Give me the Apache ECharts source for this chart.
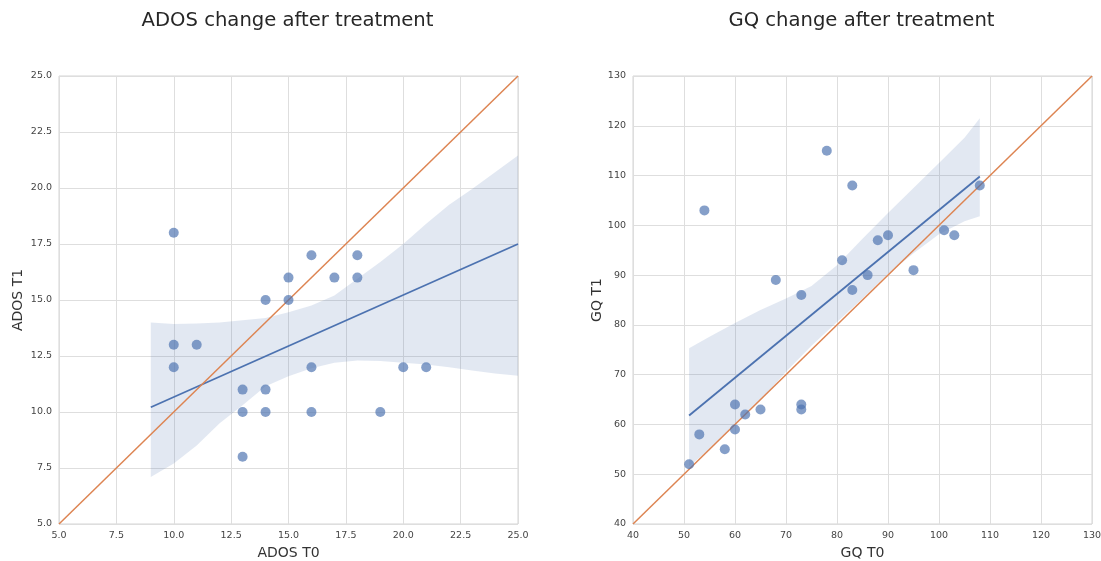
<!DOCTYPE html>
<html>
<head>
<meta charset="utf-8">
<script src="https://cdn.jsdelivr.net/npm/echarts@6/dist/echarts.min.js"></script>
<style>
  html, body { margin: 0; padding: 0; background: #ffffff; }
  #chart { width: 1101px; height: 561px; }
</style>
</head>
<body>
<div id="chart"></div>
<script>
// ADOS scores before (T0) and after (T1) treatment
const adosT0 = [10, 10, 10, 11, 13, 13, 13, 14, 14, 14, 15, 15, 16, 16, 16, 17, 18, 18, 19, 20, 21];
const adosT1 = [18, 13, 12, 13, 11, 10, 8, 15, 11, 10, 16, 15, 17, 12, 10, 16, 17, 16, 10, 12, 12];
// ADOS fitted regression line and its confidence band
const adosFitX = [9, 25];
const adosFitY = [10.21, 17.5];
const adosBandX = [9, 10, 11, 12, 13, 14, 15, 16, 17, 18, 19, 20, 21, 22, 23, 24, 25];
const adosBandUpper = [14.0, 13.93, 13.95, 14.0, 14.1, 14.2, 14.45, 14.75, 15.2, 15.95, 16.7, 17.5, 18.4, 19.25, 19.95, 20.7, 21.45];
const adosBandLower = [7.1, 7.7, 8.5, 9.5, 10.3, 11.15, 11.6, 11.95, 12.2, 12.3, 12.28, 12.2, 12.12, 12.0, 11.85, 11.72, 11.62];
// ADOS identity line (no change)
const adosIdentity = [5, 25];

// GQ scores before (T0) and after (T1) treatment
const gqT0 = [54, 78, 83, 108, 101, 103, 90, 88, 81, 86, 95, 83, 68, 73, 60, 62, 65, 73, 73, 53, 60, 58, 51];
const gqT1 = [103, 115, 108, 108, 99, 98, 98, 97, 93, 90, 91, 87, 89, 86, 64, 62, 63, 64, 63, 58, 59, 55, 52];
// GQ fitted regression line and its confidence band
const gqFitX = [51, 108];
const gqFitY = [61.8, 109.8];
const gqBandX = [51, 55, 60, 65, 70, 75, 80, 85, 90, 95, 100, 105, 108];
const gqBandUpper = [75.3, 77.6, 80.4, 83.0, 85.3, 87.8, 92.0, 97.3, 102.5, 107.5, 112.5, 117.6, 121.5];
const gqBandLower = [51.6, 55.0, 60.0, 64.8, 70.6, 75.8, 80.6, 85.3, 90.2, 94.4, 98.2, 100.8, 101.8];
// GQ identity line (no change)
const gqIdentity = [40, 130];

// Axis ticks
const adosTicks = { min: 5, max: 25, interval: 2.5 };
const gqTicks = { min: 40, max: 130, interval: 10 };

const titles = ['ADOS change after treatment', 'GQ change after treatment'];
const xNames = ['ADOS T0', 'GQ T0'];
const yNames = ['ADOS T1', 'GQ T1'];

const FONT = 'DejaVu Sans';
const BLUE = '#4c72b0';
const ORANGE = '#dd8452';

const zip = (a, b) => a.map((v, i) => [v, b[i]]);

function bandSeries(idx, xs, up, lo) {
  return {
    type: 'custom',
    xAxisIndex: idx,
    yAxisIndex: idx,
    z: 2,
    silent: true,
    data: [0],
    renderItem: function (params, api) {
      const pts = [];
      for (let i = 0; i < xs.length; i++) pts.push(api.coord([xs[i], up[i]]));
      for (let i = xs.length - 1; i >= 0; i--) pts.push(api.coord([xs[i], lo[i]]));
      return {
        type: 'polygon',
        shape: { points: pts },
        style: { fill: 'rgba(76,114,176,0.16)', stroke: null }
      };
    }
  };
}

function lineSeries(idx, data, color, width, z) {
  return {
    type: 'line',
    xAxisIndex: idx,
    yAxisIndex: idx,
    data: data,
    symbol: 'none',
    silent: true,
    z: z,
    lineStyle: { color: color, width: width }
  };
}

function scatterSeries(idx, data) {
  return {
    type: 'scatter',
    xAxisIndex: idx,
    yAxisIndex: idx,
    data: data,
    symbolSize: 10,
    z: 5,
    itemStyle: { color: 'rgba(76,114,176,0.85)' }
  };
}

function xAxis(idx, t, fmt) {
  return {
    type: 'value',
    gridIndex: idx,
    min: t.min, max: t.max, interval: t.interval,
    name: xNames[idx],
    nameLocation: 'middle',
    nameGap: 18,
    nameTextStyle: { fontFamily: FONT, fontSize: 14, color: '#333333' },
    axisLine: { show: false },
    axisTick: { show: false },
    axisLabel: { fontFamily: FONT, fontSize: 9.5, color: '#444444', margin: 7, formatter: fmt,
                 showMinLabel: true, showMaxLabel: true },
    splitLine: { show: true, lineStyle: { color: '#dedede', width: 1 } }
  };
}

function yAxis(idx, t, fmt, gap) {
  return {
    type: 'value',
    gridIndex: idx,
    min: t.min, max: t.max, interval: t.interval,
    name: yNames[idx],
    nameLocation: 'middle',
    nameGap: gap,
    nameTextStyle: { fontFamily: FONT, fontSize: 14, color: '#333333' },
    axisLine: { show: false },
    axisTick: { show: false },
    axisLabel: { fontFamily: FONT, fontSize: 9.5, color: '#444444', margin: 7, formatter: fmt,
                 showMinLabel: true, showMaxLabel: true },
    splitLine: { show: true, lineStyle: { color: '#dedede', width: 1 } }
  };
}

const oneDecimal = v => v.toFixed(1);
const integer = v => String(Math.round(v));

const gridBase = {
  top: 76, width: 459, height: 448, show: true,
  borderColor: '#d4d4d4', borderWidth: 1, backgroundColor: '#ffffff',
  containLabel: false, outerBoundsMode: 'none'
};

const titleStyle = { fontFamily: FONT, fontSize: 19.6, fontWeight: 'normal', color: '#262626' };

const option = {
  animation: false,
  backgroundColor: '#ffffff',
  title: [
    { text: titles[0], left: 282.5, top: 6, textAlign: 'center', textStyle: titleStyle },
    { text: titles[1], left: 856.5, top: 6, textAlign: 'center', textStyle: titleStyle }
  ],
  grid: [
    Object.assign({ left: 59 }, gridBase),
    Object.assign({ left: 633 }, gridBase)
  ],
  xAxis: [xAxis(0, adosTicks, oneDecimal), xAxis(1, gqTicks, integer)],
  yAxis: [yAxis(0, adosTicks, oneDecimal, 34), yAxis(1, gqTicks, integer, 29)],
  series: [
    bandSeries(0, adosBandX, adosBandUpper, adosBandLower),
    lineSeries(0, zip(adosFitX, adosFitY), BLUE, 1.8, 3),
    lineSeries(0, zip(adosIdentity, adosIdentity), ORANGE, 1.5, 4),
    scatterSeries(0, zip(adosT0, adosT1)),

    bandSeries(1, gqBandX, gqBandUpper, gqBandLower),
    lineSeries(1, zip(gqFitX, gqFitY), BLUE, 1.8, 3),
    lineSeries(1, zip(gqIdentity, gqIdentity), ORANGE, 1.5, 4),
    scatterSeries(1, zip(gqT0, gqT1))
  ]
};

const chart = echarts.init(document.getElementById('chart'), null, { renderer: 'canvas' });
chart.setOption(option);
</script>
</body>
</html>
